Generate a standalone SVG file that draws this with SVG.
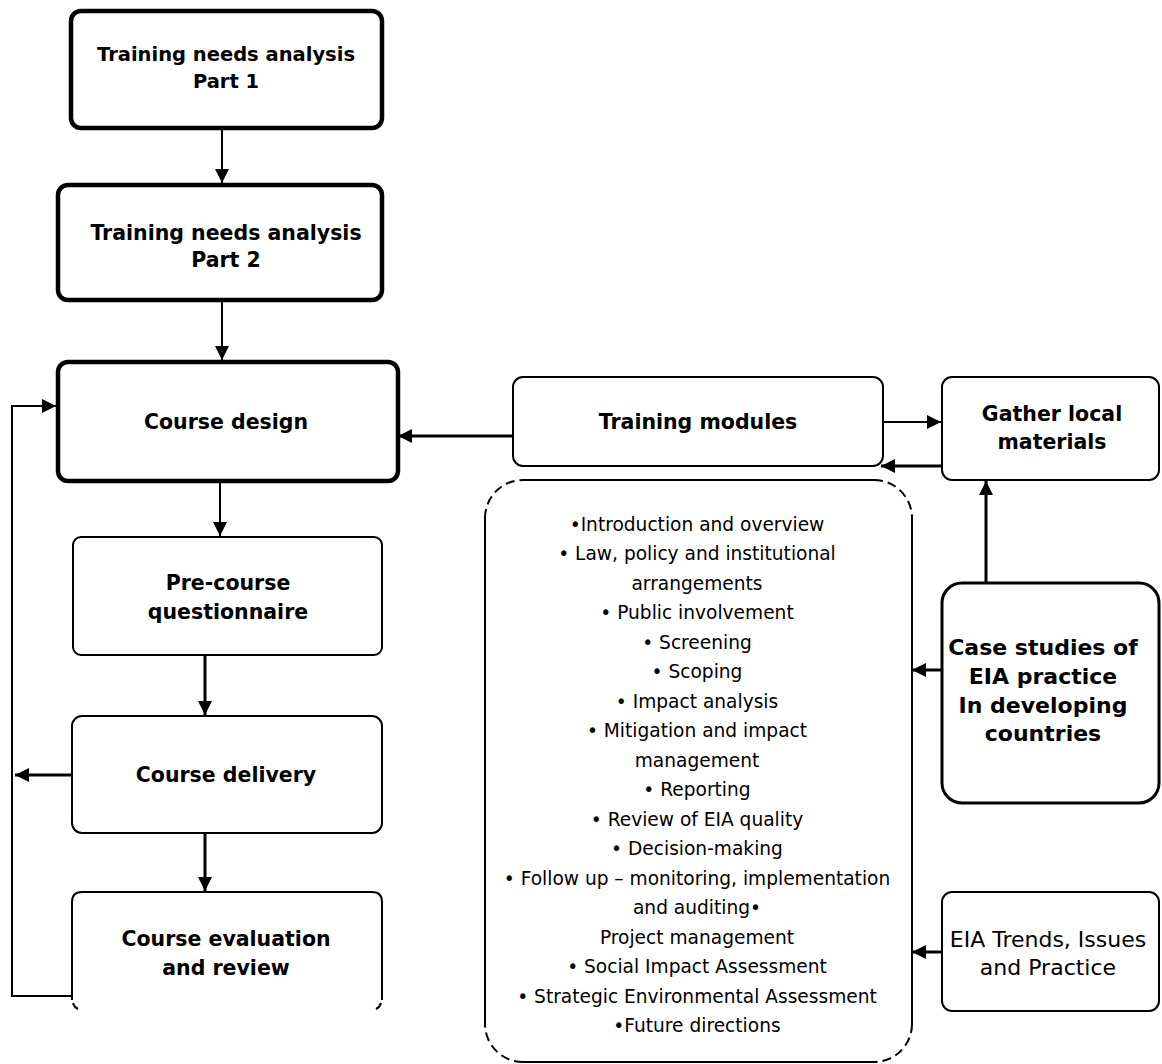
<svg xmlns="http://www.w3.org/2000/svg" width="1162" height="1064" viewBox="0 0 1162 1064">
<defs>
<marker id="ahs" viewBox="0 0 10 10" refX="10" refY="5" markerWidth="14" markerHeight="14" markerUnits="userSpaceOnUse" orient="auto">
<path d="M0,0 L10,5 L0,10 z" fill="#000"/>
</marker>
<style>
.thick{fill:#fff;stroke:#000;stroke-width:4.5}
.thin{fill:#fff;stroke:#000;stroke-width:2}
.mid{fill:#fff;stroke:#000;stroke-width:3}
.open{fill:none;stroke:#000;stroke-width:2}
.dash{fill:none;stroke:#000;stroke-width:2;stroke-dasharray:9 5}
.b{font-family:"DejaVu Sans","Liberation Sans",sans-serif;font-weight:bold;font-size:20.5px;text-anchor:middle;fill:#000}
.bs{font-family:"DejaVu Sans","Liberation Sans",sans-serif;font-weight:bold;font-size:19.5px;text-anchor:middle;fill:#000}
.bl{font-family:"DejaVu Sans","Liberation Sans",sans-serif;font-weight:bold;font-size:22px;text-anchor:middle;fill:#000}
.r{font-family:"DejaVu Sans","Liberation Sans",sans-serif;font-size:18.6px;text-anchor:middle;fill:#000}
.rl{font-family:"DejaVu Sans","Liberation Sans",sans-serif;font-size:22px;text-anchor:middle;fill:#000}
.c{fill:none;stroke:#000;stroke-width:2}
.c3{fill:none;stroke:#000;stroke-width:3}
</style>
</defs>

<g id="tna1">
<rect class="thick" x="71" y="11" width="311" height="117" rx="10"/>
<text class="bs" x="226" y="61">Training needs analysis</text>
<text class="bs" x="226" y="88">Part 1</text>
</g>

<g id="tna2">
<rect class="thick" x="58" y="185" width="324" height="115" rx="10"/>
<text class="b" x="226" y="240">Training needs analysis</text>
<text class="b" x="226" y="267">Part 2</text>
</g>

<g id="course-design">
<rect class="thick" x="58" y="362" width="340" height="119" rx="10"/>
<text class="b" x="226" y="429">Course design</text>
</g>

<g id="pre-course">
<rect class="thin" x="73" y="537" width="309" height="118" rx="8"/>
<text class="b" x="228" y="590">Pre-course</text>
<text class="b" x="228" y="619">questionnaire</text>
</g>

<g id="course-delivery">
<rect class="thin" x="72" y="716" width="310" height="117" rx="10"/>
<text class="b" x="226" y="782">Course delivery</text>
</g>

<g id="course-evaluation">
<path class="open" d="M72,1000 V902 Q72,892 82,892 H372 Q382,892 382,902 V1000"/>
<path class="open" d="M73,1003 Q74,1007 78,1009"/>
<path class="open" d="M381,1003 Q380,1007 376,1009"/>
<text class="b" x="226" y="946">Course evaluation</text>
<text class="b" x="226" y="975">and review</text>
</g>

<g id="training-modules">
<rect class="thin" x="513" y="377" width="370" height="89" rx="10"/>
<text class="b" x="698" y="429">Training modules</text>
</g>

<g id="gather">
<rect class="thin" x="942" y="377" width="217" height="103" rx="10"/>
<text class="b" x="1052" y="421">Gather local</text>
<text class="b" x="1052" y="449">materials</text>
</g>

<g id="case-studies">
<rect class="mid" x="942" y="583" width="217" height="220" rx="20"/>
<text class="bl" x="1043" y="655">Case studies of</text>
<text class="bl" x="1043" y="684">EIA practice</text>
<text class="bl" x="1043" y="713">In developing</text>
<text class="bl" x="1043" y="741">countries</text>
</g>

<g id="eia-trends">
<rect class="thin" x="942" y="892" width="217" height="119" rx="10"/>
<text class="rl" x="1048" y="947">EIA Trends, Issues</text>
<text class="rl" x="1048" y="975">and Practice</text>
</g>

<g id="module-list">
<rect x="485" y="480" width="427" height="582" rx="38" fill="#fff" stroke="none"/>
<path class="open" d="M523,480 H874 M912,518 V1024 M874,1062 H523 M485,1024 V518"/>
<path class="dash" d="M485,518 A38,38 0 0 1 523,480 M874,480 A38,38 0 0 1 912,518 M912,1024 A38,38 0 0 1 874,1062 M523,1062 A38,38 0 0 1 485,1024"/>
<text class="r" x="697" y="531">•Introduction and overview</text>
<text class="r" x="697" y="560">• Law, policy and institutional</text>
<text class="r" x="697" y="590">arrangements</text>
<text class="r" x="697" y="619">• Public involvement</text>
<text class="r" x="697" y="649">• Screening</text>
<text class="r" x="697" y="678">• Scoping</text>
<text class="r" x="697" y="708">• Impact analysis</text>
<text class="r" x="697" y="737">• Mitigation and impact</text>
<text class="r" x="697" y="767">management</text>
<text class="r" x="697" y="796">• Reporting</text>
<text class="r" x="697" y="826">• Review of EIA quality</text>
<text class="r" x="697" y="855">• Decision-making</text>
<text class="r" x="697" y="885">• Follow up – monitoring, implementation</text>
<text class="r" x="697" y="914">and auditing•</text>
<text class="r" x="697" y="944">Project management</text>
<text class="r" x="697" y="973">• Social Impact Assessment</text>
<text class="r" x="697" y="1003">• Strategic Environmental Assessment</text>
<text class="r" x="697" y="1032">•Future directions</text>
</g>

<g id="connectors">
<path class="c" d="M222,128 V183" marker-end="url(#ahs)"/>
<path class="c" d="M222,300 V360" marker-end="url(#ahs)"/>
<path class="c" d="M220,481 V536" marker-end="url(#ahs)"/>
<path class="c3" d="M205,655 V715" marker-end="url(#ahs)"/>
<path class="c3" d="M205,833 V891" marker-end="url(#ahs)"/>
<path class="c" d="M72,996 H12 V406 H56" marker-end="url(#ahs)"/>
<path class="c3" d="M72,775 H15" marker-end="url(#ahs)"/>
<path class="c3" d="M513,436 H398" marker-end="url(#ahs)"/>
<path class="c" d="M883,422 H941" marker-end="url(#ahs)"/>
<path class="c3" d="M942,466 H881" marker-end="url(#ahs)"/>
<path class="c3" d="M986,583 V481" marker-end="url(#ahs)"/>
<path class="c3" d="M942,670 H912" marker-end="url(#ahs)"/>
<path class="c3" d="M942,952 H912" marker-end="url(#ahs)"/>
</g>
</svg>
